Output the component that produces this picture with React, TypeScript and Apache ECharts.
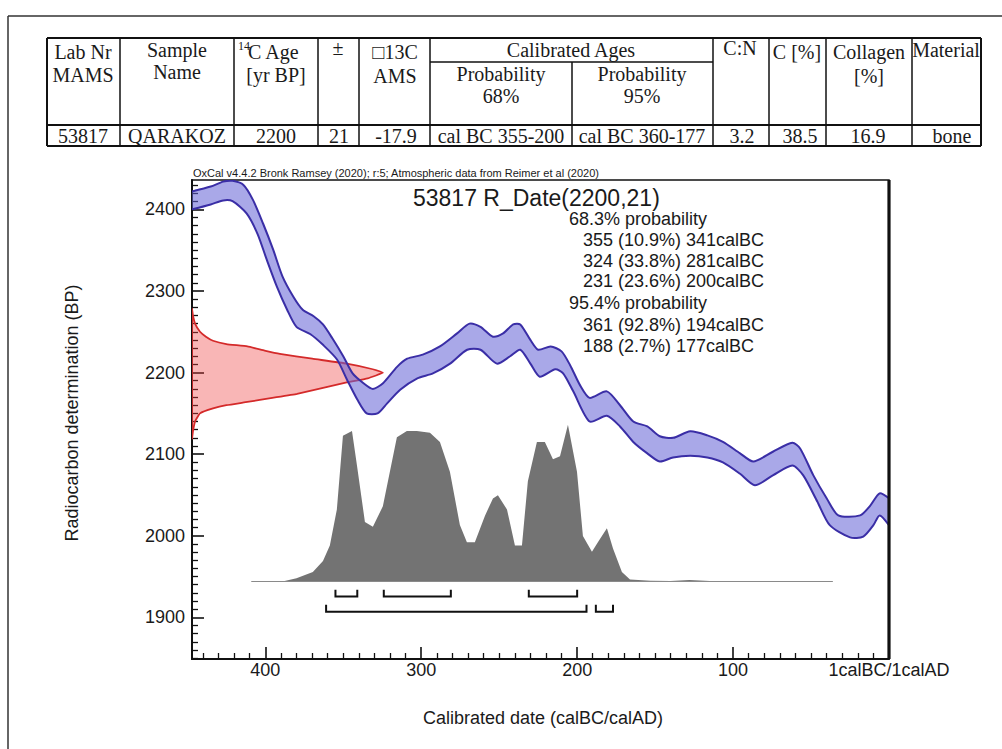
import React, { useEffect, useRef } from "react";
import * as echarts from "echarts";

// ---------- Table content ----------
const tableRow = ["53817", "QARAKOZ", "2200", "21", "-17.9", "cal BC 355-200", "cal BC 360-177", "3.2", "38.5", "16.9", "bone"];

// ---------- Axis ticks ----------
const yMajorTicks = [1900, 2000, 2100, 2200, 2300, 2400];
const xMajorTicks = [0, 100, 200, 300, 400];

// ---------- Calibration curve (calBC, BP) ----------
const upperCurve: [number, number][] = [
  [447, 2422], [435, 2428], [427, 2434], [421, 2435], [414, 2430], [408, 2412], [401.5, 2383], [395, 2351],
  [389, 2318], [382, 2293], [376, 2277], [369, 2269], [363, 2259], [357, 2242], [350, 2220], [344, 2199],
  [337, 2187], [331, 2180], [324.5, 2187], [315.5, 2207], [309, 2217], [299, 2222], [288, 2232], [277, 2248],
  [269, 2260], [262, 2256], [254, 2244], [247.5, 2248], [241, 2259], [236.5, 2259], [230, 2240], [225, 2228],
  [217, 2232], [210, 2226], [204.5, 2209], [198, 2184], [192, 2169], [181, 2177], [172.5, 2160], [164, 2140],
  [155, 2134], [147, 2122], [138.5, 2120], [127.5, 2128], [116.5, 2123], [106.5, 2115], [95.5, 2101], [87, 2091],
  [74.5, 2103], [62, 2114], [57, 2107], [48.5, 2074], [40, 2046], [32.5, 2025], [18.5, 2025], [12, 2037],
  [6, 2052], [0, 2046],
];
const lowerCurve: [number, number][] = [
  [447, 2400], [435, 2406], [427, 2411], [421, 2410], [412, 2395], [405, 2370], [399, 2338], [392.5, 2305],
  [386, 2277], [380, 2256], [371, 2247], [363, 2234], [354, 2216], [347.5, 2191], [341, 2167], [335, 2150],
  [328, 2150], [322, 2162], [313.5, 2179], [302.5, 2193], [292.5, 2199], [281.5, 2211], [270.5, 2228], [262, 2228],
  [251.5, 2211], [243, 2220], [236.5, 2228], [230, 2211], [224, 2195], [214, 2204], [209, 2199], [202.5, 2177],
  [192, 2140], [181, 2147], [172.5, 2134], [164, 2115], [155, 2101], [147, 2091], [138.5, 2096], [127.5, 2098],
  [116.5, 2096], [106.5, 2090], [95.5, 2076], [86, 2062], [74.5, 2074], [62, 2086], [55, 2074], [46, 2042],
  [38, 2013], [25, 1998], [16.5, 1999], [10, 2013], [6, 2025], [0, 2013],
];

// ---------- Measured date density (BP, relative %) ----------
const measuredDensity: [number, number][] = [
  [2278, 0], [2270, 0.5], [2260, 1.6], [2250, 4.2], [2244, 7.3], [2239, 11], [2235, 18], [2232, 29], [2227, 38],
  [2223, 46], [2217, 63], [2211, 81], [2205, 93], [2200, 100], [2193, 92], [2188, 81], [2183, 72], [2174, 55],
  [2169, 42], [2164, 29], [2160, 18], [2156, 11], [2150, 4.2], [2140, 1.6], [2128, 0.5], [2119, 0],
];

// ---------- Calibrated density (calBC, relative %) ----------
const calibratedDensity: [number, number][] = [
  [409, 0], [389, 0], [380, 2], [369.5, 6], [363, 13], [358.6, 23], [354.1, 46], [350.2, 93], [344.4, 96],
  [341.2, 74], [336.1, 38], [331, 35], [324.6, 48], [320.1, 70], [315.6, 92], [309.2, 96], [302.8, 96], [294.4, 95],
  [288, 89], [281.6, 70], [275.2, 36], [270.7, 25], [265.6, 25], [259.1, 42], [254, 53], [250.8, 55], [245, 46],
  [239.9, 23], [235.4, 23], [231.6, 64], [225.8, 89], [220.7, 89], [215.5, 78], [211, 80], [205.9, 100], [200.1, 70],
  [196.3, 29], [190.5, 19], [186.7, 25], [180.9, 34], [177, 21], [171.3, 6], [166.1, 1.3], [153, 0.4], [140, 0.3],
  [128, 1], [115, 0.3], [80, 0.1], [36, 0],
];

// ---------- Ranges ----------
const ranges68: [number, number][] = [[355, 341], [324, 281], [231, 200]];
const pct68 = [10.9, 33.8, 23.6];
const ranges95: [number, number][] = [[361, 194], [188, 177]];
const pct95 = [92.8, 2.7];

const SANS = '"Liberation Sans", Arial, sans-serif';
const SERIF = '"Liberation Serif", "Times New Roman", serif';

const X_MIN = 0, X_MAX = 447, Y_MIN = 1849, Y_MAX = 2436;
const CAL_BASE = 1944, CAL_SCALE = 192 / 100;
const MEAS_EDGE = 447, MEAS_SCALE = 122.5 / 100;

function txt(x: number, y: number, s: string, size: number, family: string, align = "center", extra: any = {}) {
  return {
    type: "text", x, y, z: 50, ...extra,
    style: { text: s, font: `${size}px ${family}`, fill: "#1a1a1a", textAlign: align, textVerticalAlign: "middle", align, verticalAlign: "middle" },
  };
}
function ln(x1: number, y1: number, x2: number, y2: number, w = 1.5, color = "#111") {
  return { type: "line", z: 50, shape: { x1, y1, x2, y2 }, style: { stroke: color, lineWidth: w } };
}

export default function App() {
  const ref = useRef<HTMLDivElement>(null);
  useEffect(() => {
    document.body.style.margin = "0";
    const chart = echarts.init(ref.current!, null, { renderer: "svg" });
    const yMinor: number[] = [];
    for (let v = 1850; v <= 2430; v += 10) if (v % 100 !== 0) yMinor.push(v);
    const xMinor: number[] = [];
    for (let v = 10; v <= 440; v += 10) if (v % 100 !== 0) xMinor.push(v);

    // table graphics
    const cols = [47, 120, 234, 318, 359, 430, 572, 713, 769, 826, 912, 981];
    const tTop = 38, tSub = 62, tHead = 125, tBot = 146;
    const g: any[] = [];
    g.push(ln(47, tTop, 981, tTop, 2));
    g.push(ln(47, tBot, 981, tBot, 2));
    g.push(ln(47, tHead, 981, tHead, 1.8));
    g.push(ln(430, tSub, 713, tSub, 1.5));
    cols.forEach((c, i) => {
      if (c === 572) g.push(ln(c, tSub, c, tBot, 1.5));
      else g.push(ln(c, tTop, c, tBot, i === 0 || i === cols.length - 1 ? 2 : 1.5));
    });
    const F = 20;
    g.push(txt(83, 52, "Lab Nr", F, SERIF), txt(83, 75, "MAMS", F, SERIF));
    g.push(txt(177, 50, "Sample", F, SERIF), txt(177, 72, "Name", F, SERIF));
    g.push(txt(238, 46, "14", 12, SERIF, "left"), txt(248, 52, "C Age", F, SERIF, "left"), txt(276, 75, "[yr BP]", F, SERIF));
    g.push(txt(338, 48, "±", F, SERIF));
    g.push(txt(395, 52, "\u25A113C", F, SERIF), txt(395, 76, "AMS", F, SERIF));
    g.push(txt(571, 50, "Calibrated Ages", F, SERIF));
    g.push(txt(501, 74, "Probability", F, SERIF), txt(501, 96, "68%", F, SERIF));
    g.push(txt(642, 74, "Probability", F, SERIF), txt(642, 96, "95%", F, SERIF));
    g.push(txt(740, 48, "C:N", F, SERIF));
    g.push(txt(797, 52, "C [%]", F, SERIF));
    g.push(txt(869, 52, "Collagen", F, SERIF), txt(869, 76, "[%]", F, SERIF));
    g.push(txt(946, 50, "Material", F, SERIF));
    const rowX = [83, 177, 276, 339, 396, 501, 642, 742, 800, 868, 952];
    tableRow.forEach((s, i) => g.push(txt(rowX[i], 136, s, F, SERIF)));

    // page frame
    g.push(ln(8, 16, 1002, 16, 1.5, "#333"), ln(8, 16, 8, 749, 1.5, "#333"));
    // right thick frame
    g.push(ln(889, 180, 889, 659, 3.2));

    // plot texts
    g.push(txt(193, 173, "OxCal v4.4.2 Bronk Ramsey (2020); r:5; Atmospheric data from Reimer et al (2020)", 11, SANS, "left"));
    g.push(txt(413, 198, `${tableRow[0]} R_Date(${tableRow[2]},${tableRow[3]})`, 23, SANS, "left"));
    const lines: [string, number, number][] = [];
    lines.push(["68.3% probability", 569, 219]);
    ranges68.forEach((r, i) => lines.push([`${r[0]} (${pct68[i]}%) ${r[1]}calBC`, 583, 240 + i * 20.7]));
    lines.push(["95.4% probability", 569, 303]);
    ranges95.forEach((r, i) => lines.push([`${r[0]} (${pct95[i]}%) ${r[1]}calBC`, 583, 325 + i * 21]));
    lines.forEach(([s, x, y]) => g.push(txt(x, y, s, 18, SANS, "left")));
    g.push(txt(72, 413, "Radiocarbon determination (BP)", 18, SANS, "center", { rotation: Math.PI / 2 }));
    g.push(txt(543, 718, "Calibrated date (calBC/calAD)", 18, SANS));

    const brackets: [number, number, number][] = [
      ...ranges68.map((r) => [r[0], r[1], 68] as [number, number, number]),
      ...ranges95.map((r) => [r[0], r[1], 95] as [number, number, number]),
    ];

    const axisLabelStyle = { fontSize: 18, fontFamily: SANS, color: "#1a1a1a" };

    chart.setOption({
      animation: false,
      grid: { left: 192, top: 180, right: 113, bottom: 90, show: true, borderColor: "#111", borderWidth: 1.5, backgroundColor: "transparent" },
      xAxis: [
        {
          type: "value", inverse: true, min: X_MIN, max: X_MAX, position: "bottom",
          axisLine: { show: true, onZero: false, lineStyle: { color: "#111", width: 2 } },
          axisTick: { show: true, inside: true, length: 12, customValues: xMajorTicks, lineStyle: { color: "#111", width: 1.6 } },
          axisLabel: { ...axisLabelStyle, margin: 2, customValues: xMajorTicks, formatter: (v: number) => (v === 0 ? "1calBC/1calAD" : String(v)) },
          splitLine: { show: false },
        },
        {
          type: "value", inverse: true, min: X_MIN, max: X_MAX, position: "bottom",
          axisLine: { show: false, onZero: false },
          axisTick: { show: true, inside: true, length: 6, customValues: xMinor, lineStyle: { color: "#111", width: 1.3 } },
          axisLabel: { show: false }, splitLine: { show: false },
        },
      ],
      yAxis: [
        {
          type: "value", min: Y_MIN, max: Y_MAX, position: "left",
          axisLine: { show: true, onZero: false, lineStyle: { color: "#111", width: 2 } },
          axisTick: { show: true, inside: true, length: 12, customValues: yMajorTicks, lineStyle: { color: "#111", width: 1.6 } },
          axisLabel: { ...axisLabelStyle, margin: 7, customValues: yMajorTicks, formatter: (v: number) => String(v) },
          splitLine: { show: false },
        },
        {
          type: "value", min: Y_MIN, max: Y_MAX, position: "left",
          axisLine: { show: false, onZero: false },
          axisTick: { show: true, inside: true, length: 6, customValues: yMinor, lineStyle: { color: "#111", width: 1.3 } },
          axisLabel: { show: false }, splitLine: { show: false },
        },
      ],
      series: [
        {
          type: "custom", name: "measured", clip: true, z: 2, data: [[200, 2000]],
          renderItem: (_p: any, api: any) => {
            const pts = measuredDensity.map(([bp, d]) => api.coord([MEAS_EDGE - d * MEAS_SCALE, bp]));
            return {
              type: "polygon", shape: { points: pts, smooth: 0.12 },
              style: { fill: "rgba(240,62,62,0.38)", stroke: "#d42a2a", lineWidth: 1.8 },
            };
          },
        },
        {
          type: "custom", name: "curve", clip: true, z: 3, data: [[200, 2000]],
          renderItem: (_p: any, api: any) => {
            const up = upperCurve.map((p) => api.coord(p));
            const lo = lowerCurve.map((p) => api.coord(p));
            return {
              type: "group",
              children: [
                { type: "polygon", shape: { points: up.concat(lo.slice().reverse()), smooth: 0.25 }, style: { fill: "rgba(98,96,213,0.55)" } },
                { type: "polyline", shape: { points: up, smooth: 0.25 }, style: { stroke: "#3a2ea6", lineWidth: 2, fill: null } },
                { type: "polyline", shape: { points: lo, smooth: 0.25 }, style: { stroke: "#3a2ea6", lineWidth: 2, fill: null } },
              ],
            };
          },
        },
        {
          type: "custom", name: "calibrated", clip: true, z: 4, data: [[200, 2000]],
          renderItem: (_p: any, api: any) => {
            const pts = calibratedDensity.map(([bc, d]) => api.coord([bc, CAL_BASE + d * CAL_SCALE]));
            const p0 = api.coord([calibratedDensity[0][0], CAL_BASE]);
            const p1 = api.coord([calibratedDensity[calibratedDensity.length - 1][0], CAL_BASE]);
            return {
              type: "group",
              children: [
                { type: "polygon", shape: { points: pts }, style: { fill: "#737373" } },
                { type: "line", shape: { x1: p0[0], y1: p0[1], x2: p1[0], y2: p1[1] }, style: { stroke: "#8a8a8a", lineWidth: 1.2 } },
              ],
            };
          },
        },
        {
          type: "custom", name: "ranges", clip: true, z: 5, data: brackets,
          encode: { x: [0, 1], y: 2 },
          renderItem: (_p: any, api: any) => {
            const a = api.value(0), b = api.value(1), lvl = api.value(2);
            const base = lvl === 68 ? 1925.5 : 1907;
            const top = base + 8.5;
            const pts = [api.coord([a, top]), api.coord([a, base]), api.coord([b, base]), api.coord([b, top])];
            return { type: "polyline", shape: { points: pts }, style: { stroke: "#111", lineWidth: 2, fill: null } };
          },
        },
      ],
      graphic: { elements: g },
    });
    return () => chart.dispose();
  }, []);
  return <div ref={ref} style={{ width: 1002, height: 749 }} />;
}
